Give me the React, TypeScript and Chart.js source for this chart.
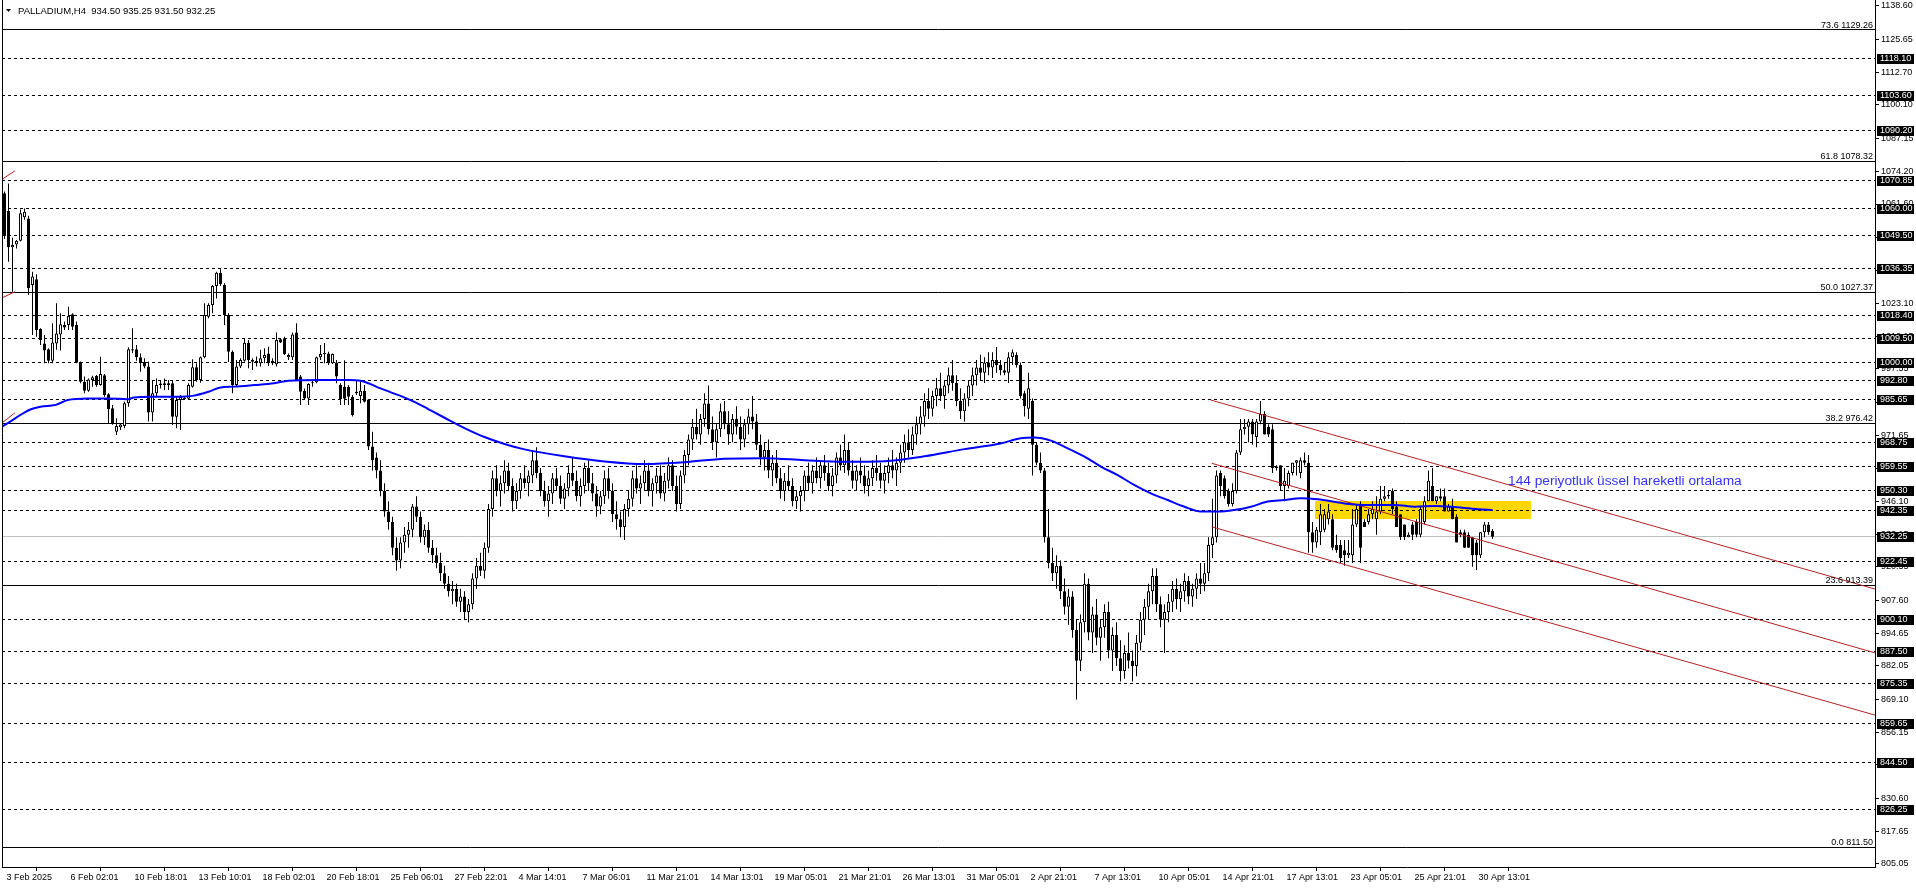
import { useEffect, useRef } from 'react';
import { Chart, registerables } from 'chart.js';

Chart.register(...registerables);

const CANVAS_W = 1916;
const CANVAS_H = 888;

// ---- Candle data (H4 bars, index 0 = first visible bar) ----
const opens = [
  1065.8, 1058.9, 1044.8, 1045.9, 1047.3, 1056.5, 1056.0, 1030.1, 1032.3, 1013.0,
  1007.4, 1005.1, 1000.7, 1007.4, 1010.9, 1014.6, 1014.6, 1018.7, 1014.6, 1000.2,
  992.5, 989.0, 993.2, 994.7, 991.2, 995.0, 987.6, 982.2, 973.1, 974.8,
  975.3, 984.1, 1005.1, 1005.1, 1002.0, 1000.2, 998.4, 980.5, 988.0, 991.2,
  991.9, 991.2, 991.9, 978.9, 985.4, 986.4, 985.9, 990.6, 998.1, 993.2,
  1002.0, 1017.8, 1022.3, 1029.7, 1034.9, 1030.1, 1018.4, 1004.2, 991.2, 998.4,
  1000.7, 1007.7, 1001.0, 1000.6, 999.7, 1001.6, 1003.5, 1000.7, 999.3, 1009.0,
  1009.4, 1002.0, 1002.0, 1011.6, 994.5, 989.0, 986.0, 991.9, 992.3, 1002.0,
  1003.3, 1003.5, 999.7, 1000.0, 991.2, 990.6, 990.6, 986.7, 988.6, 987.0,
  989.0, 985.6, 967.3, 963, 958, 950, 942, 938, 928, 923,
  930, 933, 935, 944, 940, 932, 935, 928, 925, 922,
  918, 914, 911, 912, 907, 909, 903, 906, 916, 921,
  919, 928, 943, 955, 950, 953, 958, 952, 946, 950,
  955, 953, 956, 962, 957, 950, 946, 949, 955, 952,
  947, 951, 957, 954, 948, 952, 959, 953, 949, 944,
  948, 955, 950, 941, 939, 936, 943, 947, 955, 951,
  953, 958, 950, 953, 956, 949, 954, 960, 952, 945,
  956, 964, 970, 975, 972, 978, 984, 974, 969, 974,
  981, 976, 972, 978, 975, 970, 976, 979, 977, 968,
  963, 966, 958, 961, 955, 950, 954, 952, 946, 948,
  950, 956, 953, 958, 955, 960, 957, 952, 956, 963,
  960, 966, 958, 954, 958, 956, 952, 955, 959, 957,
  954, 957, 960, 958, 961, 965, 969, 966, 972, 976,
  979, 985, 982, 987, 990, 987, 991, 995, 992, 985,
  981, 986, 991, 995, 998, 996, 1000, 998, 1001, 999,
  997, 996, 1002, 1003, 999, 988, 982, 985, 968, 961,
  958, 932, 922, 918, 921, 911, 905, 909, 896, 884,
  899, 914, 895, 902, 893, 897, 903, 888, 894, 885,
  880, 887, 884, 882, 891, 900, 905, 911, 917, 906,
  900, 903, 907, 912, 908, 911, 915, 909, 912, 916,
  914, 918, 929, 932, 957, 955, 950, 945, 950, 965,
  974, 975, 977, 971, 977, 980, 975, 974, 959, 960,
  952, 952, 957, 961, 957, 962, 961, 934, 930, 934,
  935, 939, 939, 929, 929, 927, 925, 925, 937, 945,
  938, 938, 941, 939, 942, 947, 948, 950, 944, 941,
  937, 932, 937, 938, 933, 938, 946, 952, 946, 948,
  948, 942, 944, 940, 934, 934, 933, 932, 930, 925,
  934, 937, 934.5,
];

const highs = [
  1066.5, 1069.6, 1048.6, 1047.6, 1059.5, 1059.9, 1057.0, 1035.3, 1034.3, 1013.3,
  1010.7, 1005.5, 1015.2, 1023.0, 1019.1, 1015.9, 1021.7, 1019.1, 1015.9, 1000.4,
  994.5, 993.8, 994.8, 995.1, 1002.2, 995.5, 988.0, 983.5, 978.3, 976.1,
  984.7, 1005.9, 1013.3, 1006.8, 1003.5, 1001.6, 1000.3, 993.2, 993.8, 993.2,
  993.8, 993.2, 993.2, 986.7, 987.3, 987.0, 991.9, 1001.2, 999.7, 1002.3,
  1023.0, 1023.0, 1030.1, 1035.3, 1036.2, 1030.8, 1019.1, 1004.6, 1001.0, 1001.6,
  1009.4, 1008.7, 1001.6, 1002.3, 1004.9, 1005.5, 1006.1, 1001.6, 1011.6, 1009.4,
  1010.0, 1003.5, 1011.6, 1015.2, 995.1, 989.9, 991.9, 993.2, 1002.3, 1006.8,
  1007.6, 1004.2, 1003.5, 1001.0, 991.9, 1000.9, 991.2, 987.3, 993.2, 993.2,
  991.2, 985.7, 973.1, 965, 962, 953, 946, 940, 932, 932,
  936, 938, 945, 948, 942, 937, 938, 931, 928, 926,
  921, 917, 915, 914, 912, 911, 908, 918, 924, 926,
  930, 945, 958, 960, 956, 962, 961, 955, 953, 957,
  960, 958, 966, 967, 959, 954, 952, 957, 959, 956,
  953, 960, 963, 958, 955, 961, 962, 957, 952, 950,
  958, 959, 953, 946, 942, 945, 950, 958, 960, 956,
  962, 961, 955, 959, 960, 957, 963, 962, 956, 958,
  966, 972, 978, 982, 980, 988, 991, 979, 976, 984,
  985, 981, 980, 983, 979, 978, 982, 987, 980, 972,
  969, 970, 964, 966, 959, 957, 960, 955, 950, 952,
  958, 961, 960, 963, 962, 964, 961, 959, 965, 968,
  972, 969, 962, 960, 963, 960, 958, 962, 964, 961,
  960, 963, 966, 963, 968, 972, 974, 975, 979, 983,
  988, 990, 989, 994, 996, 993, 998, 1001, 995, 990,
  988, 993, 998, 1001, 1003, 1002, 1004, 1004, 1006, 1001,
  1000, 1004, 1005, 1004, 1000, 989, 996, 986, 969, 965,
  959, 943, 928, 925, 923, 916, 912, 911, 900, 902,
  918, 916, 905, 908, 900, 906, 907, 897, 899, 892,
  890, 895, 888, 894, 903, 908, 914, 920, 920, 909,
  906, 910, 915, 916, 914, 918, 917, 914, 918, 922,
  922, 932, 947, 958, 958, 956, 951, 953, 966, 978,
  978, 978, 978, 978, 985, 981, 976, 976, 960, 960,
  959, 958, 961, 962, 963, 965, 964, 938, 936, 945,
  943, 945, 941, 933, 931, 931, 931, 943, 945, 946,
  939, 943, 946, 948, 952, 952, 950, 951, 946, 941,
  937, 934, 938, 939, 944, 948, 958, 959, 948, 951,
  951, 945, 947, 941, 935, 935, 934, 932, 931, 934,
  938, 938, 935.25,
];

const lows = [
  1048.0, 1039.2, 1027.5, 1044.3, 1047.0, 1055.5, 1026.2, 1010.7, 1010.0, 1006.8,
  999.7, 999.7, 999.7, 1004.9, 1004.6, 1012.6, 1012.6, 1012.6, 999.7, 991.9,
  988.0, 988.6, 990.6, 990.6, 990.9, 986.7, 976.3, 975.8, 971.8, 973.7,
  974.4, 982.8, 1003.6, 1000.7, 996.4, 997.7, 977.0, 977.0, 986.7, 989.9,
  989.3, 989.3, 975.7, 974.4, 973.7, 985.4, 985.4, 990.3, 992.5, 992.1,
  1001.6, 1017.2, 1019.1, 1024.9, 1029.7, 1014.6, 1000.2, 988.0, 990.6, 997.8,
  1000.3, 997.7, 997.1, 998.4, 998.4, 999.7, 998.6, 999.0, 998.4, 1007.6,
  1002.9, 1001.0, 1001.0, 992.9, 983.5, 985.4, 983.5, 990.6, 991.9, 1001.0,
  999.7, 999.0, 999.4, 991.9, 983.5, 983.5, 983.5, 979.0, 987.3, 984.1,
  984.4, 966.0, 958.0, 955, 948, 940, 935, 925, 919, 920,
  926, 928, 932, 938, 930, 929, 926, 922, 920, 915,
  912, 909, 906, 905, 903, 900, 899, 904, 912, 917,
  916, 926, 940, 948, 944, 949, 950, 942, 943, 947,
  951, 948, 953, 955, 948, 944, 940, 945, 950, 945,
  943, 948, 952, 946, 944, 949, 950, 946, 940, 941,
  945, 947, 938, 935, 932, 931, 940, 944, 949, 945,
  950, 948, 944, 949, 947, 946, 951, 950, 942, 943,
  953, 960, 966, 970, 968, 975, 972, 966, 963, 971,
  974, 968, 969, 972, 966, 967, 972, 974, 966, 960,
  958, 955, 952, 953, 947, 946, 950, 944, 943, 942,
  946, 950, 949, 953, 951, 954, 950, 948, 953, 958,
  957, 956, 951, 950, 953, 949, 948, 952, 954, 951,
  949, 953, 955, 952, 957, 961, 963, 964, 968, 972,
  975, 978, 979, 983, 985, 982, 988, 989, 983, 978,
  977, 983, 987, 991, 993, 992, 995, 994, 996, 995,
  995, 992, 999, 998, 986, 979, 978, 956, 960, 957,
  930, 920, 915, 912, 908, 902, 898, 893, 869, 880,
  895, 892, 887, 890, 884, 893, 885, 880, 882, 876,
  877, 881, 876, 878, 888, 894, 900, 906, 903, 897,
  887, 899, 903, 904, 903, 907, 906, 905, 908, 910,
  911, 915, 924, 930, 948, 947, 944, 944, 949, 964,
  972, 969, 968, 967, 976, 972, 971, 957, 958, 950,
  946, 951, 956, 956, 955, 960, 926, 926, 928, 929,
  934, 937, 927, 926, 922, 921, 924, 922, 936, 922,
  936, 937, 939, 933, 941, 946, 947, 941, 936, 931,
  931, 932, 931, 932, 932, 937, 946, 946, 945, 946,
  942, 942, 939, 930, 932, 928, 928, 920.6, 919.3, 924,
  932, 933, 931.5,
];

const closes = [
  1049.2, 1044.8, 1045.7, 1047.3, 1058.0, 1058.6, 1028.8, 1033.4, 1012.6, 1008.7,
  1004.6, 1000.7, 1007.8, 1011.3, 1014.9, 1013.6, 1018.1, 1013.9, 999.9, 992.5,
  989.0, 993.4, 994.2, 991.1, 995.5, 987.3, 981.8, 976.1, 975.3, 975.9,
  984.1, 1005.1, 1004.6, 1002.0, 999.7, 998.4, 980.5, 988.0, 991.2, 991.8,
  991.2, 991.9, 978.9, 985.4, 986.7, 985.8, 991.2, 998.1, 993.2, 1002.0,
  1018.4, 1022.3, 1029.7, 1034.9, 1030.4, 1018.4, 1004.2, 991.2, 998.4, 1001.0,
  1007.7, 1001.0, 1000.3, 999.7, 1001.6, 1002.9, 999.7, 999.7, 1008.7, 1007.8,
  1003.3, 1002.9, 1010.9, 993.2, 988.6, 986.0, 991.6, 992.3, 1002.0, 1003.3,
  1003.8, 999.7, 1003.3, 994.5, 985.7, 985.9, 986.7, 979.6, 988.0, 989.0,
  984.7, 967.3, 962, 958, 950, 942, 938, 928, 923, 930,
  933, 935, 944, 940, 932, 935, 928, 925, 922, 918,
  914, 911, 912, 907, 909, 903, 906, 916, 921, 919,
  928, 943, 955, 950, 953, 958, 952, 946, 950, 955,
  953, 956, 962, 957, 950, 946, 949, 955, 952, 947,
  951, 957, 954, 948, 952, 959, 953, 949, 944, 948,
  955, 950, 941, 939, 936, 943, 947, 955, 951, 953,
  958, 950, 953, 956, 949, 954, 960, 952, 945, 956,
  964, 970, 975, 972, 978, 984, 974, 969, 974, 981,
  976, 972, 978, 975, 970, 976, 979, 977, 968, 963,
  966, 958, 961, 955, 950, 954, 952, 946, 948, 950,
  956, 953, 958, 955, 960, 957, 952, 956, 963, 960,
  966, 958, 954, 958, 956, 952, 955, 959, 957, 954,
  957, 960, 958, 961, 965, 969, 966, 972, 976, 979,
  985, 982, 987, 990, 987, 991, 995, 992, 985, 981,
  986, 991, 995, 998, 996, 1000, 998, 1001, 999, 997,
  996, 1002, 1004, 999, 987, 983, 990, 968, 961, 958,
  932, 922, 918, 921, 911, 905, 909, 896, 884, 899,
  914, 895, 902, 893, 897, 903, 888, 894, 885, 880,
  887, 884, 882, 891, 900, 905, 911, 917, 906, 900,
  903, 907, 912, 908, 911, 915, 909, 912, 916, 914,
  918, 929, 932, 956, 952, 948, 945, 950, 965, 974,
  975, 977, 972, 977, 980, 972, 972, 959, 959.5, 952,
  954, 957, 961, 962, 962, 961, 934, 930, 935, 941,
  941, 942, 928, 927, 924, 925, 926, 937, 943, 928,
  936, 941, 943, 942, 947, 948, 948.6, 943, 936, 932,
  932, 933, 933, 933, 943, 946, 954, 946, 948, 947,
  942, 944, 939, 930, 933, 928, 928, 925, 925, 934,
  937, 934, 932.25,
];

// ---- 144-period EMA at sample bars ----
const emaBars = [
  -0.6, 2, 4, 6.6, 9, 12.8, 15.8, 20.8, 25.8, 30.8, 32.4, 36.6, 44, 47, 51, 54, 57.4, 62.4, 67.4, 71,
  79, 86, 89, 91, 94, 99, 103, 106, 110, 115, 120, 125, 130, 140, 150, 160, 170, 180, 190, 200,
  210, 220, 230, 240, 249, 254, 257.4, 261.6, 265.8, 270, 274.1, 278.3, 282.4, 286.6, 290.8, 295, 299.1, 303.3, 307.4, 311.6,
  315.8, 320, 324.1, 328.3, 335, 341, 347.6, 352.6, 357.6, 361.8, 366, 368.5, 372,
];
const emaValues = [
  975.0, 977.6, 979.6, 981.8, 982.8, 983.5, 985.4, 986.0, 986.0, 985.7, 986.4, 986.7, 986.7, 987.0, 988.6, 990.3, 990.6, 991.2, 991.9, 992.9,
  993.2, 993.2, 992.9, 991.9, 989.9, 987.0, 984.3, 981.8, 978.5, 974.5, 971.0, 968.3, 966.2, 963.5, 961.5, 960.5, 961.2, 962.6, 962.8, 962.0,
  961.4, 961.6, 963.5, 966.3, 968.5, 970.5, 970.8, 969.6, 966.6, 963.4, 959.5, 956.2, 952.4, 949.1, 946.5, 943.9, 942.0, 942.0, 942.6, 943.9,
  945.9, 946.5, 947.2, 946.8, 945.2, 944.6, 944.6, 943.9, 944.2, 943.9, 943.3, 942.9, 942.6,
];

// ---- Time axis ----
const timeLabels = [
  '3 Feb 2025', '6 Feb 02:01', '10 Feb 18:01', '13 Feb 10:01', '18 Feb 02:01', '20 Feb 18:01',
  '25 Feb 06:01', '27 Feb 22:01', '4 Mar 14:01', '7 Mar 06:01', '11 Mar 21:01', '14 Mar 13:01',
  '19 Mar 05:01', '21 Mar 21:01', '26 Mar 13:01', '31 Mar 05:01', '2 Apr 21:01', '7 Apr 13:01',
  '10 Apr 05:01', '14 Apr 21:01', '17 Apr 13:01', '23 Apr 05:01', '25 Apr 21:01', '30 Apr 13:01',
];
const BARS_PER_LABEL = 16;
const X_MIN = -0.625;
const X_MAX = 467.625;

// ---- Price axis ----
const priceTicks = [
  1138.6, 1125.65, 1112.7, 1100.1, 1087.15, 1074.2, 1061.6, 1048.65, 1035.7, 1023.1,
  1010.15, 997.55, 984.6, 971.65, 958.7, 946.1, 933.15, 920.55, 907.6, 894.65,
  882.05, 869.1, 856.15, 843.55, 830.6, 817.65, 805.05,
];
const Y_MIN = 803.83;
const Y_MAX = 1140.92;

// ---- Drawn objects ----
const dashedLevels = [
  1118.1, 1103.6, 1090.2, 1070.85, 1060.0, 1049.5, 1036.35, 1018.4, 1009.5, 1000.0,
  992.8, 985.65, 968.75, 959.55, 950.3, 942.35, 922.45, 900.1, 887.5, 875.35,
  859.65, 844.5, 826.25,
];
const lastPrice = 932.25;
const fibRatios = ['73.6', '61.8', '50.0', '38.2', '23.6', '0.0'];
const fibPrices = [1129.26, 1078.32, 1027.37, 976.42, 913.39, 811.5];

const zoneBars = [327.6, 381.55];
const zonePrices = [939.26, 946.25];

const channelUpper = [[301.55, 985.4], [467.6, 911.9]];
const channelMiddle = [[301.8, 960.8], [467.6, 887.1]];
const channelLower = [[301.8, 936.1], [467.6, 862.9]];
const leftSeg1 = [[-0.6, 1071.2], [2.6, 1074.5]];
const leftSeg2 = [[-0.6, 1025.1], [2.6, 1027.5]];
const leftSeg3 = [[-0.6, 976.5], [2.6, 980.4]];

const noteText = '144 periyotluk üssel hareketli ortalama';
const noteBar = 375.9;
const notePrice = 953.9;

const titleText = 'PALLADIUM,H4  934.50 935.25 931.50 932.25';

const FONT = 'Liberation Sans';

const overlayPlugin = {
  id: 'mt4Overlay',
  beforeDatasetsDraw(chart: any) {
    const { ctx, chartArea: a } = chart;
    const xs = chart.scales.x;
    const ys = chart.scales.y;
    const py = (p: number) => Math.round(ys.getPixelForValue(p) - 0.5) + 0.5;
    ctx.save();
    ctx.beginPath();
    ctx.rect(a.left, a.top, a.right - a.left, a.bottom - a.top);
    ctx.clip();
    const zx1 = Math.round(xs.getPixelForValue(zoneBars[0]));
    const zx2 = Math.round(xs.getPixelForValue(zoneBars[1]));
    const zy1 = Math.round(ys.getPixelForValue(zonePrices[1]));
    const zy2 = Math.round(ys.getPixelForValue(zonePrices[0]));
    ctx.fillStyle = '#ffd700';
    ctx.fillRect(zx1, zy1, zx2 - zx1, zy2 - zy1);
    ctx.lineWidth = 1;
    ctx.strokeStyle = '#c0c0c0';
    ctx.beginPath();
    ctx.moveTo(a.left, py(lastPrice));
    ctx.lineTo(a.right, py(lastPrice));
    ctx.stroke();
    ctx.strokeStyle = '#000000';
    ctx.setLineDash([3, 3]);
    ctx.beginPath();
    for (const p of dashedLevels) {
      const y = py(p);
      ctx.moveTo(a.left, y);
      ctx.lineTo(a.right, y);
    }
    ctx.stroke();
    ctx.setLineDash([]);
    ctx.beginPath();
    for (const p of fibPrices) {
      const y = py(p);
      ctx.moveTo(a.left, y);
      ctx.lineTo(a.right, y);
    }
    ctx.stroke();
    ctx.restore();
  },
  afterDatasetsDraw(chart: any) {
    const { ctx, chartArea: a } = chart;
    const xs = chart.scales.x;
    const ys = chart.scales.y;
    ctx.save();
    ctx.fillStyle = '#000000';
    ctx.font = `9px "${FONT}"`;
    ctx.textAlign = 'right';
    ctx.textBaseline = 'alphabetic';
    fibPrices.forEach((p, i) => {
      const y = Math.round(ys.getPixelForValue(p));
      ctx.fillText(`${fibRatios[i]} ${p.toFixed(2)}`, a.right - 2, y - 2);
    });
    ctx.fillStyle = '#3333ff';
    ctx.font = `13.7px "${FONT}"`;
    ctx.textAlign = 'left';
    ctx.textBaseline = 'middle';
    ctx.fillText(noteText, xs.getPixelForValue(noteBar), ys.getPixelForValue(notePrice));
    ctx.restore();
  },
  afterDraw(chart: any) {
    const { ctx, chartArea: a } = chart;
    const ys = chart.scales.y;
    ctx.save();
    ctx.strokeStyle = '#000000';
    ctx.lineWidth = 1;
    ctx.beginPath();
    ctx.moveTo(a.left + 0.5, 0);
    ctx.lineTo(a.left + 0.5, a.bottom);
    ctx.stroke();
    ctx.font = `9px "${FONT}"`;
    ctx.textAlign = 'left';
    ctx.textBaseline = 'middle';
    for (const p of [...dashedLevels, lastPrice]) {
      const yc = Math.round(ys.getPixelForValue(p) - 0.5);
      ctx.fillStyle = '#000000';
      ctx.fillRect(a.right + 2, yc - 4, 37, 10);
      ctx.fillStyle = '#ffffff';
      ctx.fillText(p.toFixed(2), a.right + 5, yc + 1);
    }
    ctx.fillStyle = '#000000';
    ctx.beginPath();
    ctx.moveTo(6, 9);
    ctx.lineTo(11, 9);
    ctx.lineTo(8.5, 12);
    ctx.closePath();
    ctx.fill();
    ctx.font = `9.5px "${FONT}"`;
    ctx.fillText(titleText, 18, 11.5);
    ctx.restore();
  },
};

const toPoints = (pts: number[][]) => pts.map(([x, y]) => ({ x, y }));

export default function App() {
  const canvasRef = useRef<HTMLCanvasElement | null>(null);

  useEffect(() => {
    document.body.style.margin = '0';
    const canvas = canvasRef.current;
    if (!canvas) return;

    const bodyData = closes.map((c, i) => ({ x: i, y: [opens[i], c] }));
    const wickData = closes.map((_, i) => ({ x: i, y: [lows[i], highs[i]] }));
    const bodyColors = closes.map((c, i) => (c >= opens[i] ? '#ffffff' : '#000000'));
    const emaData = emaBars.map((b, i) => ({ x: b, y: emaValues[i] }));

    const redLine = (pts: number[][]) => ({
      type: 'line' as const,
      data: toPoints(pts),
      borderColor: '#b22222',
      borderWidth: 1,
      pointRadius: 0,
      fill: false,
      order: 1,
    });

    const chart = new Chart(canvas, {
      type: 'bar',
      data: {
        datasets: [
          {
            type: 'line',
            data: emaData,
            borderColor: '#0000ff',
            borderWidth: 2,
            pointRadius: 0,
            fill: false,
            cubicInterpolationMode: 'monotone',
            order: 0,
          } as any,
          redLine(channelUpper),
          redLine(channelMiddle),
          redLine(channelLower),
          redLine(leftSeg1),
          redLine(leftSeg2),
          redLine(leftSeg3),
          {
            type: 'bar',
            data: bodyData,
            backgroundColor: bodyColors,
            borderColor: '#000000',
            borderWidth: 1,
            borderSkipped: false,
            grouped: false,
            barPercentage: 1,
            categoryPercentage: 1,
            maxBarThickness: 3,
            minBarLength: 1,
            inflateAmount: 0,
            order: 2,
          } as any,
          {
            type: 'bar',
            data: wickData,
            backgroundColor: '#000000',
            borderWidth: 0,
            grouped: false,
            barPercentage: 1,
            categoryPercentage: 1,
            maxBarThickness: 1,
            inflateAmount: 0,
            order: 3,
          } as any,
        ],
      },
      options: {
        responsive: false,
        animation: false,
        devicePixelRatio: 1,
        events: [],
        layout: { padding: { left: 2, top: 0, right: 0, bottom: 0 } },
        plugins: {
          legend: { display: false },
          tooltip: { enabled: false },
        },
        scales: {
          x: {
            type: 'linear',
            min: X_MIN,
            max: X_MAX,
            offset: false,
            afterBuildTicks: (s: any) => {
              s.ticks = timeLabels.map((_, k) => ({ value: k * BARS_PER_LABEL }));
            },
            afterFit: (s: any) => {
              s.height = 21;
              s.paddingLeft = 0;
              s.paddingRight = 0;
            },
            ticks: {
              autoSkip: false,
              maxRotation: 0,
              minRotation: 0,
              align: 'start',
              labelOffset: 2,
              padding: 1,
              color: '#000000',
              font: { family: FONT, size: 9 },
              callback: (v: any) => timeLabels[Math.round(Number(v) / BARS_PER_LABEL)] ?? '',
            },
            grid: { drawOnChartArea: false, drawTicks: true, tickLength: 4, color: '#000000' },
            border: { display: true, color: '#000000', width: 1 },
          } as any,
          y: {
            type: 'linear',
            position: 'right',
            min: Y_MIN,
            max: Y_MAX,
            afterBuildTicks: (s: any) => {
              s.ticks = priceTicks.map((v) => ({ value: v }));
            },
            afterFit: (s: any) => {
              s.width = 41;
              s.paddingTop = 0;
              s.paddingBottom = 0;
            },
            ticks: {
              autoSkip: false,
              padding: 2,
              color: '#000000',
              font: { family: FONT, size: 9 },
              callback: (v: any) => Number(v).toFixed(2),
            },
            grid: { drawOnChartArea: false, drawTicks: true, tickLength: 4, color: '#000000' },
            border: { display: true, color: '#000000', width: 1 },
          } as any,
        },
      },
      plugins: [overlayPlugin],
    } as any);

    return () => chart.destroy();
  }, []);

  return (
    <div style={{ width: CANVAS_W, height: CANVAS_H }}>
      <canvas ref={canvasRef} width={CANVAS_W} height={CANVAS_H} style={{ display: 'block' }} />
    </div>
  );
}
